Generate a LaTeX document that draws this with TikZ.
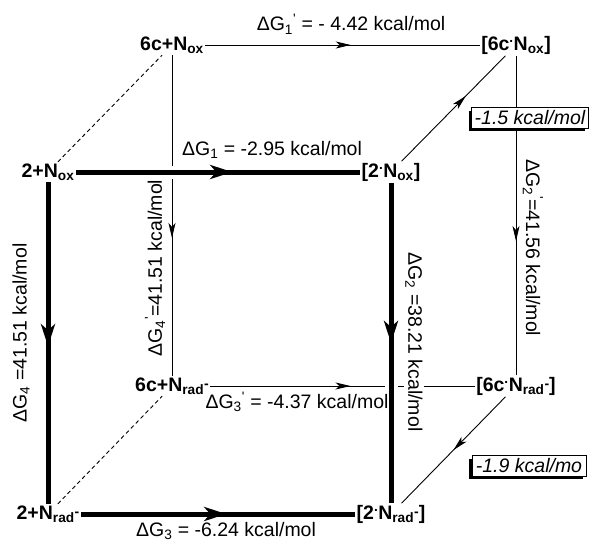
\documentclass[tikz,border=0pt]{standalone}
\usepackage{fontspec}
\setmainfont{Liberation Sans}
\usepackage{tikz}
\usetikzlibrary{arrows.meta,positioning,decorations.markings,shadows}
\newcommand\Nox{N\textsubscript{ox}}
\newcommand\Nrad{N\textsubscript{rad}\raisebox{3pt}{\fontsize{14}{16}\selectfont -}}
\newcommand\cdt{\textsuperscript{.}}
\newcommand\pr{\textsuperscript{\textquotesingle}}
\tikzset{
  species/.style={font=\bfseries\fontsize{19.5}{23}\selectfont,inner sep=1.5pt},
  dglabel/.style={font=\fontsize{19.5}{23}\selectfont,inner sep=1pt},
  backarr/.style={line width=0.9pt,postaction={decorate},
    decoration={markings,mark=at position #1 with {\arrow{Stealth[length=15pt,width=7pt,inset=4pt]}}}},
  frontarr/.style={line width=5pt,preaction={draw=white,line width=13pt},postaction={decorate},
    decoration={markings,mark=at position #1 with {\arrow{Stealth[length=22pt,width=14pt,inset=6pt]}}}},
  dashedlink/.style={line width=0.9pt,dash pattern=on 4pt off 3pt},
  energybox/.style={draw,line width=0.9pt,fill=white,font=\itshape\fontsize{19.5}{23}\selectfont,
    inner xsep=3pt,inner ysep=3pt,minimum width=114pt,
    drop shadow={shadow xshift=-3pt,shadow yshift=-3pt,opacity=1,fill=black}},
}
\begin{document}
\begin{tikzpicture}[x=1pt,y=-1pt]
  \useasboundingbox (0,0) rectangle (593,541);
  \node[species] (ox6) at (172,45) {6c+\Nox};
  \node[species] (ox6c) at (516,45) {[6c\cdt\Nox]};
  \node[species] (ox2) at (48,172) {2+\Nox};
  \node[species] (ox2c) at (391,172) {[2\cdt\Nox]};
  \node[species] (rad6) at (172,386) {6c+\Nrad};
  \node[species] (rad6c) at (516,386) {[6c\cdt\Nrad]};
  \node[species] (rad2) at (48,514) {2+\Nrad};
  \node[species] (rad2c) at (391,514) {[2\cdt\Nrad]};
  \draw[backarr=0.53] (ox6) -- (ox6c);
  \draw[backarr=0.57] (ox6) -- (rad6);
  \draw[backarr=0.58] (ox6c) -- (rad6c);
  \draw[backarr=0.53] (rad6) -- (rad6c);
  \draw[frontarr=0.55] (ox2) -- (ox2c);
  \draw[frontarr=0.51] (ox2) -- (rad2);
  \draw[frontarr=0.5] (ox2c) -- (rad2c);
  \draw[frontarr=0.53] (rad2) -- (rad2c);
  \draw[dashedlink] (ox2) -- (ox6);
  \draw[dashedlink] (rad2) -- (rad6);
  \draw[backarr=0.62] (ox2c) -- (ox6c);
  \draw[backarr=0.5] (rad6c) -- (rad2c);
  \node[dglabel] (dg1p) at (351,24) {ΔG\textsubscript{1}\pr{} = - 4.42 kcal/mol};
  \node[dglabel] (dg1) at (272,150) {ΔG\textsubscript{1} = -2.95 kcal/mol};
  \node[dglabel,rotate=90] (dg4p) at (155,268) {ΔG\textsubscript{4}\pr=41.51 kcal/mol};
  \node[dglabel,rotate=90] (dg4) at (21,333) {ΔG\textsubscript{4} =41.51 kcal/mol};
  \node[dglabel,rotate=-90] (dg2p) at (533,248) {ΔG\textsubscript{2}\pr=41.56 kcal/mol};
  \node[dglabel,rotate=-90,fill=white] (dg2) at (414,342) {ΔG\textsubscript{2} =38.21 kcal/mol};
  \node[dglabel] (dg3p) at (297,402) {ΔG\textsubscript{3}\pr{} = -4.37 kcal/mol};
  \node[dglabel,anchor=north,inner sep=0pt] (dg3) at (226,522) {ΔG\textsubscript{3} = -6.24 kcal/mol};
  \node[energybox] (e15) at (530,118) {-1.5 kcal/mol};
  \node[energybox] (e19) at (529,466) {-1.9 kcal/mo};
\end{tikzpicture}
\end{document}
